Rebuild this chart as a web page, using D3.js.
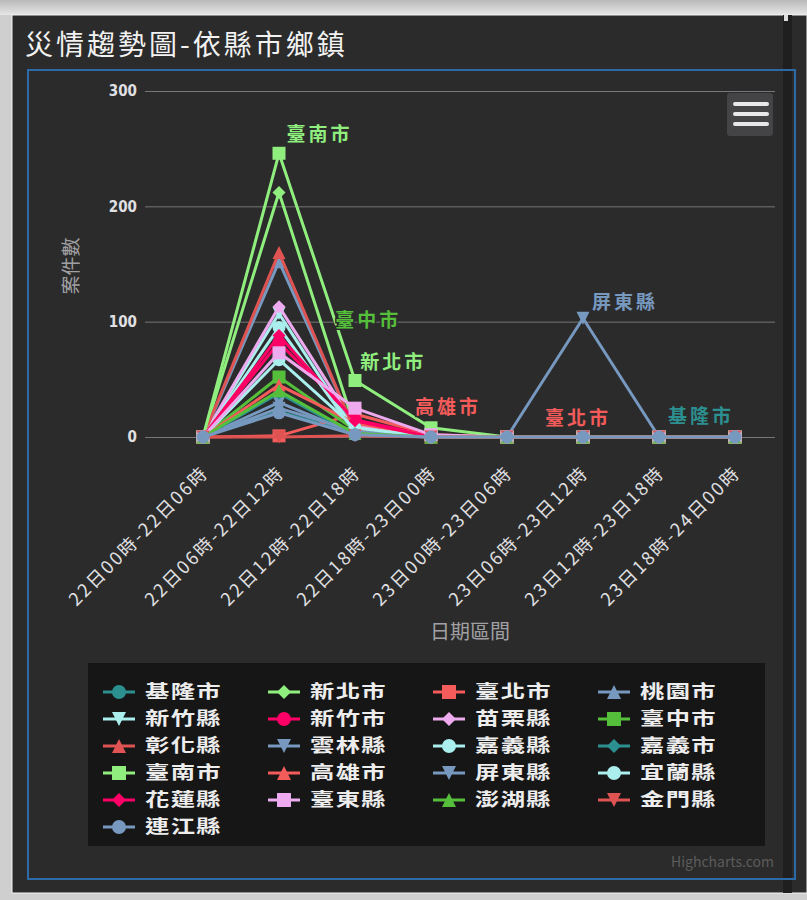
<!DOCTYPE html>
<html>
<head>
<meta charset="utf-8">
<script src="https://cdn.jsdelivr.net/npm/d3@7"></script>
<style>
body { margin: 0; background: #c9c9c9; }
svg { display: block; font-family: "Noto Sans CJK TC", "Noto Sans", sans-serif; }
</style>
</head>
<body>
<svg id="chart" width="807" height="900"></svg>
<script>
// categories on the x axis
const categories = [
    '22日00時-22日06時', '22日06時-22日12時', '22日12時-22日18時', '22日18時-23日00時',
    '23日00時-23日06時', '23日06時-23日12時', '23日12時-23日18時', '23日18時-24日00時'
];

const seriesNames = [
    '基隆市', '新北市', '臺北市', '桃園市', '新竹縣', '新竹市', '苗栗縣', '臺中市',
    '彰化縣', '雲林縣', '嘉義縣', '嘉義市', '臺南市', '高雄市', '屏東縣', '宜蘭縣',
    '花蓮縣', '臺東縣', '澎湖縣', '金門縣', '連江縣'
];

// case counts per series
const seriesValues = [
    [0, 22, 3, 0, 0, 0, 0, 0],
    [0, 212, 8, 1, 0, 0, 0, 0],
    [0, 1, 20, 2, 0, 0, 0, 0],
    [0, 152, 6, 0, 0, 0, 0, 0],
    [0, 107, 5, 0, 0, 0, 0, 0],
    [0, 82, 15, 1, 0, 0, 0, 0],
    [0, 113, 10, 0, 0, 0, 0, 0],
    [0, 52, 6, 0, 0, 0, 0, 0],
    [0, 160, 5, 0, 0, 0, 0, 0],
    [0, 30, 3, 0, 0, 0, 0, 0],
    [0, 95, 4, 0, 0, 0, 0, 0],
    [0, 38, 2, 0, 0, 0, 0, 0],
    [0, 246, 49, 8, 0, 0, 0, 0],
    [0, 45, 12, 1, 0, 0, 0, 0],
    [0, 25, 5, 0, 0, 103, 0, 0],
    [0, 67, 8, 0, 0, 0, 0, 0],
    [0, 88, 14, 0, 0, 0, 0, 0],
    [0, 73, 25, 2, 0, 0, 0, 0],
    [0, 40, 3, 0, 0, 0, 0, 0],
    [0, 0, 1, 0, 0, 0, 0, 0],
    [0, 21, 2, 0, 0, 0, 0, 0]
];

const yTicks = [0, 100, 200, 300];

// series labels drawn inside the plot: name, category position, value
const seriesLabels = [
    ['臺南市', 1.1, 262],
    ['臺中市', 1.74, 101],
    ['新北市', 2.07, 65],
    ['高雄市', 2.79, 26],
    ['臺北市', 4.5, 16],
    ['屏東縣', 5.12, 117],
    ['基隆市', 6.12, 18]
];

const palette = ['#2b908f', '#90ee7e', '#f45b5b', '#7798BF', '#aaeeee', '#ff0066',
    '#eeaaee', '#55BF3B', '#DF5353', '#7798BF', '#aaeeee'];
const symbols = ['circle', 'diamond', 'square', 'triangle', 'triangle-down'];

const svg = d3.select('#chart');
const W = 807, H = 900;

// page frame
const defs = svg.append('defs');
const topGrad = defs.append('linearGradient').attr('id', 'topGrad').attr('x1', 0).attr('y1', 0).attr('x2', 0).attr('y2', 1);
topGrad.append('stop').attr('offset', '0%').attr('stop-color', '#b9b9b9');
topGrad.append('stop').attr('offset', '100%').attr('stop-color', '#e6e6e6');
svg.append('rect').attr('width', W).attr('height', H).attr('fill', '#cfcfcf');
svg.append('rect').attr('width', W).attr('height', 15).attr('fill', 'url(#topGrad)');
svg.append('rect').attr('x', 12).attr('y', 15).attr('width', W - 12).attr('height', 878)
    .attr('fill', '#2b2b2b').attr('stroke', '#f4f4f4').attr('stroke-width', 1);
svg.append('rect').attr('x', 783).attr('y', 15).attr('width', 9).attr('height', 878).attr('fill', '#1f1f1f');
svg.append('rect').attr('x', 784).attr('y', 15).attr('width', 4).attr('height', 6).attr('fill', '#dddddd');

svg.append('text')
    .attr('x', 25).attr('y', 55)
    .attr('fill', '#f2f2f2')
    .style('font-size', '28px')
    .style('letter-spacing', '3px')
    .text('災情趨勢圖-依縣市鄉鎮');

svg.append('rect').attr('x', 28).attr('y', 70).attr('width', 767).attr('height', 809)
    .attr('fill', 'none').attr('stroke', '#2c6aa8').attr('stroke-width', 2);

// plot area
const plotLeft = 145, plotRight = 775, plotTop = 91, plotBottom = 437;

const x = d3.scaleLinear().domain([0, categories.length - 1]).range([203, 735]);
const y = d3.scaleLinear().domain([0, 300]).range([plotBottom, plotTop]);

// grid + y labels
const yAxis = svg.append('g')
    .attr('transform', `translate(${plotLeft},0)`)
    .call(d3.axisLeft(y).tickValues(yTicks).tickSize(-(plotRight - plotLeft)).tickPadding(8));
yAxis.select('.domain').remove();
yAxis.selectAll('line').attr('stroke', '#77777a').attr('stroke-width', 1);
yAxis.selectAll('text')
    .attr('fill', '#E0E0E3')
    .style('font-size', '15px')
    .style('font-weight', 'bold')
    .style('font-family', '"DejaVu Sans Condensed", "DejaVu Sans", sans-serif');

svg.append('text')
    .attr('transform', 'translate(78,266) rotate(-90)')
    .attr('text-anchor', 'middle')
    .attr('fill', '#A0A0A3')
    .style('font-size', '19px')
    .text('案件數');

// x axis
const xAxis = svg.append('g')
    .attr('transform', `translate(0,${plotBottom})`)
    .call(d3.axisBottom(x).tickValues(d3.range(categories.length)).tickFormat(i => categories[i]).tickSize(0));
xAxis.select('.domain').attr('stroke', '#77777a');
xAxis.selectAll('text')
    .attr('y', 0).attr('dy', 0)
    .attr('text-anchor', 'end')
    .attr('transform', 'translate(6,37) rotate(-45)')
    .attr('fill', '#E0E0E3')
    .style('font-size', '18px')
    .style('letter-spacing', '2.3px')
    .style('font-family', '"Noto Sans CJK TC", sans-serif');

svg.append('text')
    .attr('x', 470).attr('y', 639)
    .attr('text-anchor', 'middle')
    .attr('fill', '#A0A0A3')
    .style('font-size', '20px')
    .text('日期區間');

// marker shapes
function markerPath(sym, r) {
    if (sym === 'circle') return d3.symbol(d3.symbolCircle, Math.PI * r * r)();
    if (sym === 'square') return `M${-r},${-r}H${r}V${r}H${-r}Z`;
    if (sym === 'diamond') return `M0,${-r}L${r},0L0,${r}L${-r},0Z`;
    if (sym === 'triangle') return `M0,${-r}L${r},${r}H${-r}Z`;
    return `M${-r},${-r}H${r}L0,${r}Z`;
}

const line = d3.line().x((d, i) => x(i)).y(d => y(d));

const series = seriesNames.map((name, i) => ({
    name: name,
    values: seriesValues[i],
    color: palette[i % palette.length],
    symbol: symbols[i % symbols.length]
}));

const seriesG = svg.append('g')
    .selectAll('g')
    .data(series)
    .enter()
    .append('g');

seriesG.append('path')
    .attr('d', d => line(d.values))
    .attr('fill', 'none')
    .attr('stroke', d => d.color)
    .attr('stroke-width', 3)
    .attr('stroke-linejoin', 'round');

seriesG.each(function (s) {
    d3.select(this).selectAll('path.marker')
        .data(s.values)
        .enter()
        .append('path')
        .attr('class', 'marker')
        .attr('transform', (d, i) => `translate(${x(i)},${y(d)})`)
        .attr('d', markerPath(s.symbol, 6.5))
        .attr('fill', s.color);
});

// series labels
svg.append('g')
    .selectAll('text')
    .data(seriesLabels)
    .enter()
    .append('text')
    .attr('x', d => x(d[1]))
    .attr('y', d => y(d[2]))
    .attr('dy', '0.35em')
    .attr('fill', d => palette[seriesNames.indexOf(d[0]) % palette.length])
    .attr('stroke', '#2b2b2b')
    .attr('stroke-width', 3)
    .attr('paint-order', 'stroke')
    .style('font-size', '19px')
    .style('font-weight', 'bold')
    .style('letter-spacing', '3px')
    .text(d => d[0]);

// context menu button
const btn = svg.append('g');
btn.append('rect').attr('x', 727).attr('y', 93).attr('width', 46).attr('height', 43).attr('rx', 3)
    .attr('fill', '#444446');
[104, 114, 124].forEach(yy => {
    btn.append('line').attr('x1', 735).attr('x2', 767).attr('y1', yy).attr('y2', yy)
        .attr('stroke', '#E8E8EA').attr('stroke-width', 4).attr('stroke-linecap', 'round');
});

// legend
svg.append('rect').attr('x', 88).attr('y', 663).attr('width', 677).attr('height', 183)
    .attr('fill', '#161616');

const colX = [103, 268, 433, 598];
const legendItem = svg.append('g')
    .selectAll('g')
    .data(series)
    .enter()
    .append('g')
    .attr('transform', (d, i) => `translate(${colX[i % 4]},${692 + 27 * Math.floor(i / 4)})`);

legendItem.append('line')
    .attr('x1', 0).attr('x2', 32)
    .attr('stroke', d => d.color).attr('stroke-width', 3);
legendItem.append('path')
    .attr('transform', 'translate(16,0)')
    .attr('d', d => markerPath(d.symbol, 7))
    .attr('fill', d => d.color);
legendItem.append('text')
    .attr('transform', 'translate(42,0) scale(1.35,1)')
    .attr('dy', '0.36em')
    .attr('fill', '#EDEDED')
    .style('font-size', '18px')
    .style('font-weight', 'bold')
    .style('letter-spacing', '1px')
    .text(d => d.name);

// credits
svg.append('text')
    .attr('x', 774).attr('y', 867)
    .attr('text-anchor', 'end')
    .attr('fill', '#5c5c5c')
    .style('font-size', '14px')
    .text('Highcharts.com');
</script>
</body>
</html>
